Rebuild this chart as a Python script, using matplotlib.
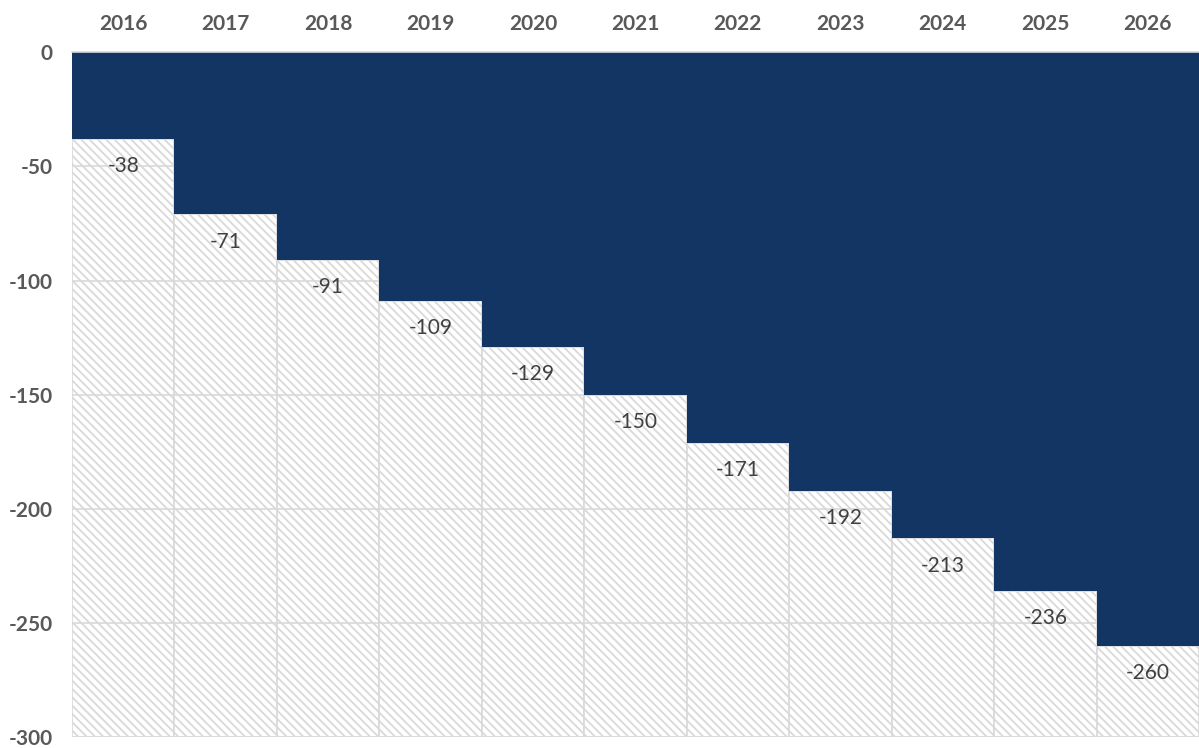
import numpy as np
import matplotlib.pyplot as plt

# Values
years = ['2016', '2017', '2018', '2019', '2020', '2021', '2022', '2023', '2024', '2025', '2026']
values = [-38, -71, -91, -109, -129, -150, -171, -192, -213, -236, -260]
y_floor = -300

plt.rcParams['font.family'] = ['Lato', 'DejaVu Sans']
plt.rcParams['axes.unicode_minus'] = False
plt.rcParams['hatch.color'] = '#e0e0e0'
plt.rcParams['hatch.linewidth'] = 1.3

fig = plt.figure(figsize=(11.99, 7.48), dpi=100)
ax = fig.add_axes([0.060, 0.0147, 0.940, 0.9153])

x = np.arange(len(years))
vals = np.array(values)

# hatched remainder below each bar, down to the axis floor
ax.bar(x, y_floor - vals, bottom=vals, width=1.0, color='white',
       edgecolor='#d9d9d9', linewidth=1.2, hatch='\\\\\\\\', zorder=2)
# main bars
ax.bar(x, vals, width=1.0, color='#133563', linewidth=0, zorder=3)

for xi, v in zip(x, vals):
    ax.text(xi, v - 12, str(v), ha='center', va='center', fontsize=15,
            color='#404040', zorder=4)

ax.set_xlim(-0.5, len(years) - 0.5)
ax.set_ylim(y_floor, 0)
ax.set_yticks(np.arange(y_floor, 1, 50))
ax.yaxis.grid(True, color='#d9d9d9', linewidth=1.2, zorder=2.5)
ax.set_axisbelow(False)

ax.xaxis.tick_top()
ax.set_xticks(x)
ax.set_xticklabels(years)
ax.tick_params(axis='x', which='both', length=5, direction='in', color='#d9d9d9',
               pad=13, labelsize=15, labelcolor='#595959')
ax.tick_params(axis='y', length=0, pad=14, labelsize=15, labelcolor='#595959')
for lab in ax.get_xticklabels() + ax.get_yticklabels():
    lab.set_fontweight('bold')

for s in ['right', 'left', 'bottom']:
    ax.spines[s].set_visible(False)
ax.spines['top'].set_color('#d9d9d9')
ax.spines['top'].set_linewidth(1.2)
ax.spines['top'].set_zorder(5)

fig.savefig('out.png', dpi=100)
